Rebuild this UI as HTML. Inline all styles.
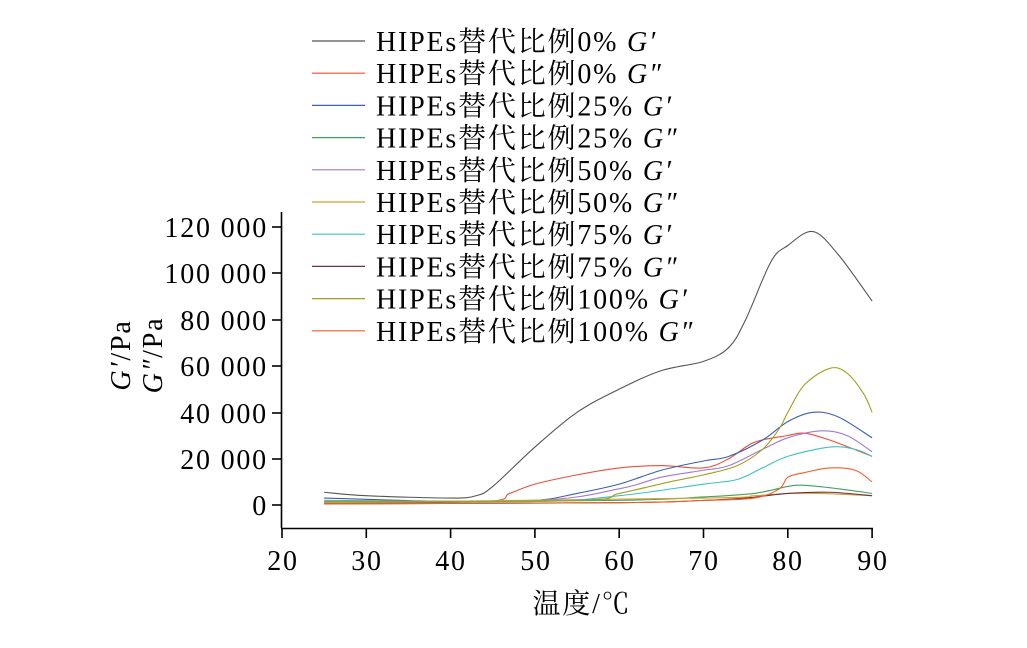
<!DOCTYPE html><html><head><meta charset="utf-8"><style>body{margin:0;background:#fff}svg{display:block}text{font-family:"Liberation Serif","Noto Serif CJK SC",serif;fill:#000;letter-spacing:1.8px}</style></head><body>
<svg id="s" width="1027" height="648" xmlns="http://www.w3.org/2000/svg">
<g stroke="#000" stroke-width="1.6" fill="none">
<line x1="281.5" y1="212" x2="281.5" y2="528"/><line x1="281" y1="528.5" x2="873" y2="528.5"/>
</g>
<g id="tk" stroke="#000" stroke-width="1.6"></g>
<g font-size="28" text-anchor="end">
<text x="268" y="237">120 000</text><text x="268" y="283">100 000</text><text x="268" y="330">80 000</text><text x="268" y="376">60 000</text><text x="268" y="423">40 000</text><text x="268" y="469">20 000</text><text x="268" y="515">0</text>
</g>
<g font-size="28" text-anchor="middle">
<text x="283" y="570">20</text><text x="367" y="570">30</text><text x="451" y="570">40</text><text x="536" y="570">50</text><text x="620" y="570">60</text><text x="704" y="570">70</text><text x="788" y="570">80</text><text x="873" y="570">90</text>
<text x="582" y="613">温度/℃</text>
<text transform="translate(130,355) rotate(-90)"><tspan font-style="italic">G′</tspan>/Pa</text>
<text transform="translate(162,355) rotate(-90)"><tspan font-style="italic">G″</tspan>/Pa</text>
</g>
<g id="curves" fill="none" stroke-width="1.1"></g>
<g id="leg" font-size="28"></g>
</svg>
<script>
var X=t=>282+(t-20)*8.43, Y=v=>505-v*2.317;
var tk=document.getElementById('tk'),h='';
[227,273,320,366,413,459,505].forEach(y=>h+='<line x1="272" x2="281" y1="'+y+'" y2="'+y+'"/>');
[20,30,40,50,60,70,80,90].forEach(t=>h+='<line x1="'+X(t)+'" x2="'+X(t)+'" y1="528" y2="538"/>');
tk.innerHTML=h;
var S=[
['#555',[[25,5.5],[30,4],[40,3],[43,4],[45,8],[50,25],[55,40],[60,50],[65,58],[70,62],[73,68],[75,80],[78,105],[80,112],[83,118],[86,108],[90,88]],"0% G′"],
['#e8503a',[[25,1],[44,1.5],[47,5],[50,9],[55,13],[60,16],[65,17],[70,16],[73,20],[76,27],[80,30],[82,31],[85,28],[90,21]],"0% G″"],
['#3a5fb0',[[25,3],[40,1.5],[50,2],[55,5],[60,9],[65,15],[70,19],[73,21],[77,28],[80,36],[83,40],[86,38],[90,29]],"25% G′"],
['#3fa060',[[25,1],[60,2],[70,3.5],[76,5],[80,8],[82,8.5],[86,7],[90,5]],"25% G″"],
['#a07ad0',[[25,2],[50,2],[60,7],[65,12],[70,15],[73,17],[77,24],[80,29],[84,32],[87,30],[90,23]],"50% G′"],
['#d0a030',[[25,1],[70,3],[76,4],[80,5],[84,5],[90,4]],"50% G″"],
['#40c0c0',[[25,2],[50,1.5],[60,4],[70,9],[74,11],[77,16],[80,21],[85,25],[88,24],[90,21]],"75% G′"],
['#703040',[[25,0.5],[60,1],[70,2],[75,3],[80,5],[85,5.5],[90,4]],"75% G″"],
['#a0a020',[[25,1.5],[55,2],[60,5],[66,10],[70,13],[74,17],[77,24],[79,33],[80,40],[82,52],[85,59],[87,57],[89,48],[90,40]],"100% G′"],
['#f06020',[[25,0.5],[60,1],[70,2],[76,3],[79,7],[80,12],[82,14],[85,16],[88,15],[90,10]],"100% G″"]];
var c='',l='';
S.forEach((s,i)=>{var p=s[1].map(q=>[X(q[0]),Y(q[1])]);var d='M'+p[0];
for(var k=0;k<p.length-1;k++){var a=p[k-1]||p[k],b=p[k],e=p[k+1],f=p[k+2]||e;
d+='C'+(b[0]+(e[0]-a[0])/6)+','+(b[1]+(e[1]-a[1])/6)+' '+(e[0]-(f[0]-b[0])/6)+','+(e[1]-(f[1]-b[1])/6)+' '+e;}
c+='<path d="'+d+'" stroke="'+s[0]+'"/>';
var y=41+i*32.2,pr=s[2].split(' ');
l+='<line x1="312" x2="365" y1="'+y+'" y2="'+y+'" stroke="'+s[0]+'" stroke-width="1.2"/><text x="376" y="'+(y+10)+'">HIPEs替代比例'+pr[0]+' <tspan font-style="italic">'+pr[1]+'</tspan></text>';});
document.getElementById('curves').innerHTML=c;document.getElementById('leg').innerHTML=l;
</script></body></html>
